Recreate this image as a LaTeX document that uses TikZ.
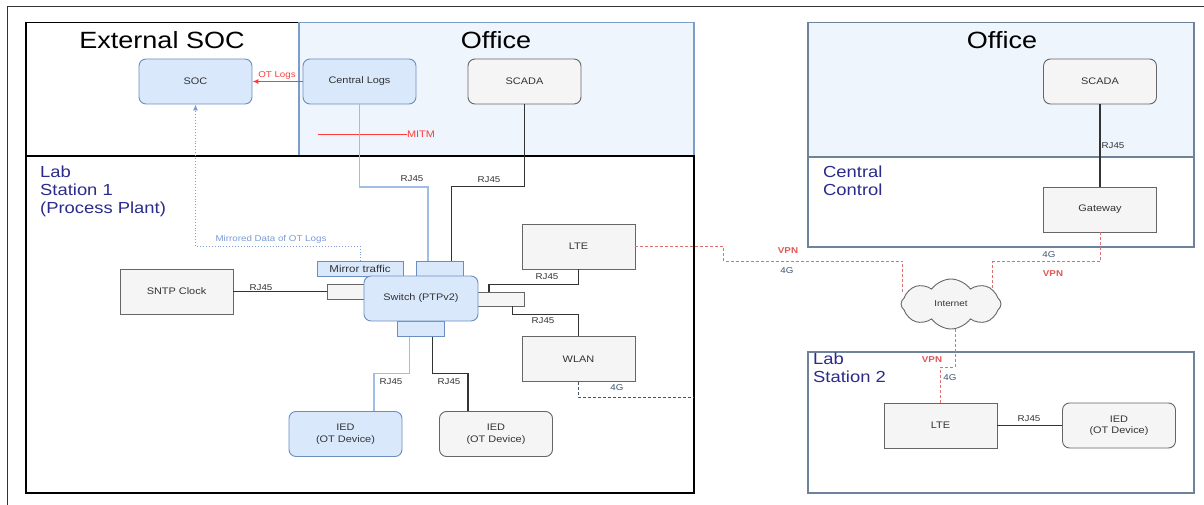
\documentclass[tikz,border=0pt]{standalone}
\usepackage{fontspec}
\setmainfont{Liberation Sans}[FakeStretch=1.15]
\usetikzlibrary{shapes.symbols,calc,arrows.meta}
\definecolor{bfill}{HTML}{DAE8FC}
\definecolor{bdraw}{HTML}{6C8EBF}
\definecolor{gfill}{HTML}{F5F5F5}
\definecolor{gdraw}{HTML}{666666}
\definecolor{ntext}{HTML}{333333}
\definecolor{offfill}{HTML}{EEF5FC}
\definecolor{offdraw}{HTML}{7B9DC8}
\definecolor{framer}{HTML}{6E8399}
\definecolor{navy}{HTML}{2B2B8C}
\definecolor{logred}{HTML}{FF3B3B}
\definecolor{vpnred}{HTML}{E05555}
\definecolor{dashred}{HTML}{E07070}
\definecolor{fourg}{HTML}{3E5570}
\definecolor{lblue}{HTML}{A0BDE6}
\definecolor{mdot}{HTML}{7A9CD3}
\definecolor{darkl}{HTML}{333333}
\tikzset{
  txt/.style={font=\fontsize{9.5}{11.5}\selectfont, text=ntext, align=center},
  lbl/.style={font=\fontsize{8.5}{10}\selectfont, text=ntext, inner sep=0pt},
  bluebox/.style={txt, draw=bdraw, fill=bfill, rounded corners=7pt, minimum width=113pt, minimum height=45pt, inner sep=0pt, line width=0.9pt},
  grayround/.style={txt, draw=gdraw, fill=gfill, rounded corners=7pt, minimum width=113pt, minimum height=45pt, inner sep=0pt, line width=0.9pt},
  graysq/.style={txt, draw=gdraw, fill=gfill, minimum width=113pt, minimum height=45pt, inner sep=0pt, line width=0.9pt},
  port/.style={draw=bdraw, fill=bfill, inner sep=0pt, line width=0.8pt},
  gport/.style={draw=gdraw, fill=gfill, inner sep=0pt, line width=0.8pt},
  title/.style={font=\fontsize{23.5}{26}\selectfont, inner sep=0pt},
  zone/.style={font=\fontsize{16}{18}\selectfont, text=navy, align=left, inner sep=0pt, anchor=north west},
  darkline/.style={draw=darkl, line width=1.1pt},
  blueline/.style={draw=lblue, line width=1.4pt},
  vpnline/.style={draw=dashred, line width=1pt, dash pattern=on 3pt off 2pt},
  wline/.style={draw=fourg, line width=0.9pt, dash pattern=on 3pt off 2pt},
  vpn/.style={font=\bfseries\fontsize{8.5}{10}\selectfont, text=vpnred, inner sep=0pt},
  gtxt/.style={font=\fontsize{8.5}{10}\selectfont, text=fourg, inner sep=0pt}
}
\begin{document}
\begin{tikzpicture}[x=1pt,y=-1pt]
\useasboundingbox (0,0) rectangle (1204,505);
\fill[white] (0,0) rectangle (1204,505);
% outer frame
\draw[draw=darkl, line width=1pt] (7,505) -- (7,7) -- (1204,7);

% containers
\draw[black, line width=1.2pt, fill=white] (26,22.5) rectangle (299,156);
\draw[offdraw, line width=1.1pt, fill=offfill] (299,22.5) rectangle (694,156);
\draw[black, line width=2.6pt] (26,156) rectangle (694,493);
\draw[framer, line width=1.1pt, fill=offfill] (808,22.5) rectangle (1194,157);
\draw[framer, line width=1.1pt, fill=white] (808,157) rectangle (1194,247);
\draw[framer, line width=1.1pt, fill=white] (808,352) rectangle (1194,493);

\node[title] (t1) at (162,40.5) {External SOC};
\node[title] (t2) at (496,40.5) {Office};
\node[title] (t3) at (1002,40.5) {Office};
\node[zone] (z1) at (40,166) {Lab\\Station 1\\(Process Plant)};
\node[zone] (z2) at (823,166) {Central\\Control};
\node[zone] (z3) at (813,353) {Lab\\Station 2};

% nodes left
\node[bluebox] (soc) at (195.5,81.5) {SOC};
\node[bluebox] (cl) at (359.5,81.5) {Central Logs};
\node[grayround] (scadaL) at (524.5,81.5) {SCADA};
\node[port, minimum width=86pt, minimum height=15pt, font=\fontsize{10}{12}\selectfont, text=ntext] (mirror) at (360,269) {Mirror traffic};
\node[port, minimum width=47pt, minimum height=15pt] (tp) at (439.5,269) {};
\node[gport, minimum width=38pt, minimum height=15pt] (lp) at (346,291.5) {};
\node[gport, minimum width=47pt, minimum height=14pt] (rp) at (500.5,299) {};
\node[port, minimum width=47pt, minimum height=15pt] (bp) at (420.5,329) {};
\node[bluebox, minimum width=114pt] (sw) at (421,298.5) {Switch (PTPv2)};
\node[graysq] (sntp) at (176.5,291.5) {SNTP Clock};
\node[graysq] (lteL) at (578.5,246.5) {LTE};
\node[graysq] (wlan) at (578.5,359) {WLAN};
\node[bluebox] (iedB) at (345.5,434) {IED\\(OT Device)};
\node[grayround] (iedG) at (496,434) {IED\\(OT Device)};

% nodes right
\node[grayround] (scadaR) at (1100,81.5) {SCADA};
\node[graysq] (gw) at (1100,209.5) {Gateway};
\node[cloud, cloud puffs=8, cloud puff arc=110, aspect=2, draw=gdraw, fill=gfill, line width=0.9pt, minimum width=100pt, minimum height=50pt, inner sep=0pt, font=\fontsize{8.5}{10}\selectfont, text=ntext] (inet) at (951,304) {Internet};
\node[graysq] (lteR) at (940.5,425.5) {LTE};
\node[grayround] (iedR) at (1119,425.5) {IED\\(OT Device)};

% OT logs arrow
\draw[draw=logred, line width=1pt, -{Latex[length=6pt,width=5pt]}] (cl.west) -- (soc.east);
\node[lbl, text=logred] (otl) at (277,75) {OT Logs};
% MITM
\coordinate (mitmA) at (318,134);
\node[font=\fontsize{9.5}{11}\selectfont, text=logred, inner sep=0pt] (mitm) at (421,134) {MITM};
\draw[draw=logred, line width=0.9pt] (mitmA) -- (mitm.west);

% RJ45 links into switch top
\draw[blueline] (cl.south) -- ++(0,82.5) -| ($(tp.north)+(-11.5,0)$);
\node[lbl] (r1) at (412,179) {RJ45};
\draw[darkline] (scadaL.south) -- ++(0,82.5) -| ($(tp.north)+(12,0)$);
\node[lbl] (r2) at (489,180) {RJ45};

% mirrored dotted
\draw[draw=mdot, line width=0.9pt, dotted, -{Latex[length=6pt,width=5pt]}] (mirror.north) -- ++(0,-15) -| (soc.south);
\node[font=\fontsize{8.5}{10}\selectfont, text=mdot, inner sep=0pt] (mdl) at (271,239) {Mirrored Data of OT Logs};

% SNTP
\draw[darkline] (sntp.east) -- (lp.west);
\node[lbl] (r3) at (261,287.5) {RJ45};

% LTE / WLAN
\draw[darkline] (lteL.south) -- ++(0,15) -| ($(rp.north)+(-11.5,0)$);
\node[lbl] (r4) at (547,277) {RJ45};
\draw[darkline] ($(rp.south)+(12,0)$) -- ++(0,8.5) -| (wlan.north);
\node[lbl] (r5) at (543,321) {RJ45};
\coordinate (wend) at (694,397);
\draw[wline] (wlan.south) |- (wend);
\node[gtxt] (g1) at (617,388) {4G};

% IEDs
\draw[blueline] ($(bp.south)+(-11,0)$) -- ++(0,36.5) -| ($(iedB.north)+(28.5,0)$);
\node[lbl] (r6) at (391,382) {RJ45};
\draw[darkline] ($(bp.south)+(12,0)$) -- ++(0,36.5) -| ($(iedG.north)+(-28,0)$);
\node[lbl] (r7) at (449,382) {RJ45};

% VPN links
\draw[vpnline] (lteL.east) -- ++(88.5,0) -- ++(0,14.5) -| ($(inet.west)+(2,-12)$);
\node[vpn] (v1) at (788,251) {VPN};
\node[gtxt] (g2) at (787,271) {4G};
\draw[vpnline] (gw.south) -- ++(0,29.5) -| ($(inet.east)+(-9,-16)$);
\node[gtxt] (g3) at (1049,255) {4G};
\node[vpn] (v2) at (1053,274) {VPN};
\draw[vpnline] ($(inet.south)+(4,0)$) -- ++(0,38) -| (lteR.north);
\node[vpn] (v3) at (932,360) {VPN};
\node[gtxt] (g4) at (950,377.5) {4G};

% right RJ45
\draw[darkline] (scadaR.south) -- (gw.north);
\node[lbl] (r8) at (1113,146) {RJ45};
\draw[darkline] (lteR.east) -- (iedR.west);
\node[lbl] (r9) at (1029,419) {RJ45};
\end{tikzpicture}
\end{document}
